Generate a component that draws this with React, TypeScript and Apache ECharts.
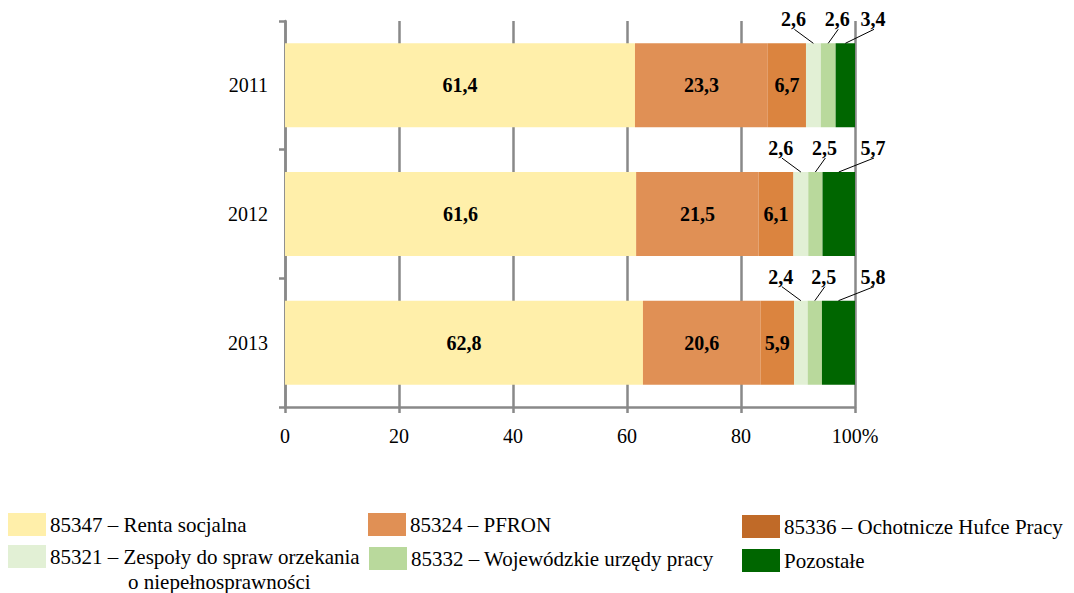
import React, { useEffect, useRef } from "react";
import * as echarts from "echarts";

const categories = ["2011", "2012", "2013"];
const seriesNames = [
  "85347 – Renta socjalna",
  "85324 – PFRON",
  "85336 – Ochotnicze Hufce Pracy",
  "85321 – Zespoły do spraw orzekania o niepełnosprawności",
  "85332 – Wojewódzkie urzędy pracy",
  "Pozostałe",
];
const renta = [61.4, 61.6, 62.8];
const pfron = [23.3, 21.5, 20.6];
const ohp = [6.7, 6.1, 5.9];
const zespoly = [2.6, 2.6, 2.4];
const wup = [2.6, 2.5, 2.5];
const pozostale = [3.4, 5.7, 5.8];
const barColors = ["#FFEFAA", "#E09055", "#DB843F", "#E2F0D5", "#B9D99C", "#006600"];
const legendColors = ["#FFEFAA", "#E09055", "#C06A28", "#E2F0D5", "#B9D99C", "#006600"];

const FONT = "'Liberation Serif', 'Times New Roman', serif";
const GREY = "#898989";
const BAR_W = 84;

const fmt = (v: number) => v.toFixed(1).replace(".", ",");

export default function App() {
  const ref = useRef<HTMLDivElement>(null);
  useEffect(() => {
    if (!ref.current) return;
    const chart = echarts.init(ref.current, undefined, { renderer: "svg" });
    const values = [renta, pfron, ohp, zespoly, wup, pozostale];

    const insideLabel = {
      show: true,
      position: "inside",
      fontFamily: FONT,
      fontWeight: "bold",
      fontSize: 20,
      color: "#000",
      formatter: (p: any) => fmt(p.value),
    };

    const series: any[] = values.map((vals, i) => ({
      name: seriesNames[i],
      type: "bar",
      stack: "total",
      barWidth: BAR_W,
      data: vals,
      itemStyle: { color: barColors[i] },
      label: i < 3 ? insideLabel : { show: false },
      emphasis: { disabled: true },
    }));

    // callout labels for the thin segments: [start, end, categoryIndex, seriesIndex]
    const callouts: number[][] = [];
    categories.forEach((_, j) => {
      let acc = 0;
      values.forEach((vals, i) => {
        if (i >= 3) callouts.push([acc, acc + vals[j], j, i]);
        acc += vals[j];
      });
    });

    series.push({
      type: "custom",
      name: "callouts",
      silent: true,
      z: 5,
      encode: { x: [0, 1], y: 2 },
      data: callouts,
      renderItem: (params: any, api: any) => {
        const s = api.value(0);
        const e = api.value(1);
        const c = api.value(2);
        const k = api.value(3);
        const p0 = api.coord([s, c]);
        const p1 = api.coord([e, c]);
        const cx = (p0[0] + p1[0]) / 2;
        const top = p0[1] - BAR_W / 2;
        let lx = cx;
        if (k === 3) lx = cx - 20;
        else if (k === 4) lx = cx + 9;
        else lx = p1[0] + 18;
        const ly = top - 24;
        return {
          type: "group",
          children: [
            {
              type: "line",
              shape: { x1: cx, y1: top, x2: lx + 1, y2: ly + 10 },
              style: { stroke: "#000", lineWidth: 1 },
            },
            {
              type: "text",
              x: lx,
              y: ly,
              style: {
                text: fmt(e - s),
                align: "center",
                verticalAlign: "middle",
                font: `bold 20px ${FONT}`,
                fill: "#000",
              },
            },
          ],
        };
      },
    });

    const legendPos = [
      { left: 8, top: 513 },
      { left: 368, top: 513 },
      { left: 742, top: 515 },
      { left: 8, top: 545 },
      { left: 369, top: 547 },
      { left: 742, top: 549 },
    ];
    const legends = seriesNames.map((n, i) => ({
      ...legendPos[i],
      orient: "horizontal",
      padding: 0,
      itemWidth: 38,
      itemHeight: 23,
      icon: "rect",
      selectedMode: false,
      data: [{ name: n, itemStyle: { color: legendColors[i] } }],
      formatter: (name: string) =>
        name.startsWith("85321") ? "85321 – Zespoły do spraw orzekania" : name,
      textStyle: { fontFamily: FONT, fontSize: 21, color: "#000", padding: [1, 0, 0, -1] },
    }));

    chart.setOption({
      animation: false,
      backgroundColor: "#fff",
      grid: { left: 285, right: 219, top: 21, bottom: 186, containLabel: false },
      xAxis: {
        type: "value",
        min: 0,
        max: 100,
        interval: 20,
        axisLine: { show: true, lineStyle: { color: GREY, width: 2.5 } },
        axisTick: { show: true, length: 6, lineStyle: { color: GREY, width: 2.5 } },
        splitLine: { show: true, lineStyle: { color: GREY, width: 2.5 } },
        axisLabel: {
          margin: 19,
          fontFamily: FONT,
          fontSize: 20,
          color: "#000",
          formatter: (v: number) => (v === 100 ? "100%" : String(v)),
        },
      },
      yAxis: {
        type: "category",
        inverse: true,
        data: categories,
        axisLine: { show: true, lineStyle: { color: GREY, width: 2.5 } },
        axisTick: { show: true, length: 6, lineStyle: { color: GREY, width: 2.5 } },
        axisLabel: {
          margin: 17,
          fontFamily: FONT,
          fontSize: 20,
          color: "#000",
          padding: [6, 0, 0, 0],
        },
      },
      legend: legends,
      graphic: [
        {
          type: "text",
          left: 128,
          top: 571,
          style: { text: "o niepełnosprawności", font: `21px ${FONT}`, fill: "#000" },
        },
      ],
      series,
    });
    return () => chart.dispose();
  }, []);
  return (
    <div
      ref={ref}
      style={{ position: "absolute", left: 0, top: 0, width: 1074, height: 593 }}
    />
  );
}
